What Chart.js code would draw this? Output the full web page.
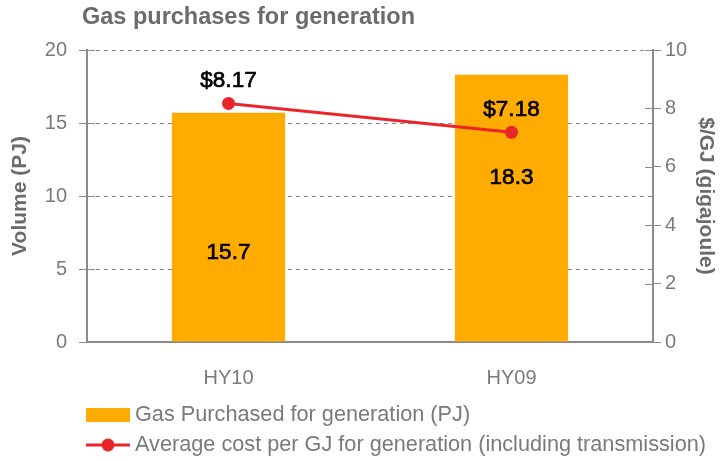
<!DOCTYPE html>
<html>
<head>
<meta charset="utf-8">
<script src="https://cdn.jsdelivr.net/npm/chart.js@4"></script>
<style>
  html, body { margin: 0; padding: 0; background: #fff; }
  #wrap { width: 720px; height: 461px; }
</style>
</head>
<body>
<div id="wrap"><canvas id="c" width="720" height="461"></canvas></div>
<script>
// ---- data ----
const categories = ['HY10', 'HY09'];
const gasVolume = [15.7, 18.3];          // PJ (left axis)
const avgCost = [8.17, 7.18];            // $/GJ (right axis)
const volumeLabels = ['15.7', '18.3'];
const costLabels = ['$8.17', '$7.18'];
const seriesNames = ['Gas Purchased for generation (PJ)', 'Average cost per GJ for generation (including transmission)'];
const chartTitle = 'Gas purchases for generation';
const leftAxisTitle = 'Volume (PJ)';
const rightAxisTitle = '$/GJ (gigajoule)';

const ORANGE = '#FFAB00';
const RED = '#E8262A';
const AXIS = '#8a8a8a';
const TXT = '#7a7a7a';
const FONT = "'Liberation Sans', Arial, sans-serif";
const PLOT_BOTTOM = 342;

// legend swatches
function makeSwatch(kind) {
  const cv = document.createElement('canvas');
  cv.width = 44; cv.height = 16;
  const x = cv.getContext('2d');
  if (kind === 'bar') {
    x.fillStyle = ORANGE; x.fillRect(0, 1, 44, 14);
  } else {
    x.strokeStyle = RED; x.lineWidth = 3;
    x.beginPath(); x.moveTo(0, 8); x.lineTo(44, 8); x.stroke();
    x.fillStyle = RED; x.beginPath(); x.arc(22, 8, 6.5, 0, Math.PI * 2); x.fill();
  }
  return cv;
}
const swatches = [makeSwatch('bar'), makeSwatch('line')];

const layoutTweak = {
  id: 'layoutTweak',
  afterLayout(chart) {
    const lg = chart.legend;
    const lab = lg.options.labels;
    const dx = 83.55 - lg.left;
    lg.left += dx; lg.right += dx;
    const targetTop = 415 - lab.padding - lab.font.size / 2;
    const dy = targetTop - lg.top;
    lg.top += dy; lg.bottom += dy;
    const t = chart.titleBlock;
    if (t) { t.left += 82; t.right += 82; }
  }
};

const innerTicks = {
  id: 'innerTicks',
  afterDatasetsDraw(chart) {
    const ctx = chart.ctx;
    const area = chart.chartArea;
    ctx.save();
    ctx.strokeStyle = AXIS; ctx.lineWidth = 1;
    const y = chart.scales.y, y1 = chart.scales.y1;
    y.ticks.forEach((t, i) => {
      const py = Math.round(y.getPixelForTick(i)) + 0.5;
      ctx.beginPath(); ctx.moveTo(area.left, py); ctx.lineTo(area.left + 8, py); ctx.stroke();
    });
    y1.ticks.forEach((t, i) => {
      const py = Math.round(y1.getPixelForTick(i)) + 0.5;
      ctx.beginPath(); ctx.moveTo(area.right - 8, py); ctx.lineTo(area.right, py); ctx.stroke();
    });
    ctx.restore();
  }
};

const dataLabels = {
  id: 'dataLabels',
  afterDatasetsDraw(chart, args, opts) {
    const ctx = chart.ctx;
    ctx.save();
    ctx.fillStyle = '#000';
    ctx.strokeStyle = '#000';
    ctx.lineWidth = 0.7;
    ctx.font = '22.5px ' + FONT;
    ctx.textAlign = 'center';
    ctx.textBaseline = 'middle';
    const draw = (s, x, y) => { ctx.fillText(s, x, y); ctx.strokeText(s, x, y); };
    const barMeta = chart.getDatasetMeta(0);
    barMeta.data.forEach((el, i) => {
      const yy = el.y + opts.barFrac[i] * (el.base - el.y);
      draw(volumeLabels[i], el.x, yy);
    });
    const lineMeta = chart.getDatasetMeta(1);
    lineMeta.data.forEach((el, i) => {
      draw(costLabels[i], el.x, el.y - 23);
    });
    ctx.restore();
  }
};

new Chart(document.getElementById('c'), {
  data: {
    labels: categories,
    datasets: [
      {
        type: 'bar', label: seriesNames[0], data: gasVolume, yAxisID: 'y',
        backgroundColor: ORANGE, borderWidth: 0,
        categoryPercentage: 0.8, barPercentage: 0.5, order: 1
      },
      {
        type: 'line', label: seriesNames[1], data: avgCost, yAxisID: 'y1',
        borderColor: RED, backgroundColor: RED, borderWidth: 3,
        pointRadius: 6.5, pointHoverRadius: 6.5, pointBackgroundColor: RED, pointBorderWidth: 0,
        tension: 0, order: 0
      }
    ]
  },
  options: {
    responsive: false,
    animation: false,
    layout: { padding: 0 },
    plugins: {
      tooltip: { enabled: false },
      title: {
        display: true, text: chartTitle, align: 'start',
        color: '#6b6b6b', font: { family: FONT, size: 23.5, weight: 'bold' },
        padding: { top: 3, bottom: 18.8 }
      },
      legend: {
        position: 'bottom', align: 'start',
        labels: {
          usePointStyle: true, pointStyleWidth: 32.3, boxHeight: 14,
          padding: 8.3, color: TXT, font: { family: FONT, size: 21.7 },
          sort: (a, b) => a.datasetIndex - b.datasetIndex,
          generateLabels: (chart) => chart.data.datasets.map((ds, i) => ({
            text: ds.label, datasetIndex: i, pointStyle: swatches[i],
            fillStyle: ds.backgroundColor, strokeStyle: ds.backgroundColor,
            lineWidth: 0, hidden: false, fontColor: TXT
          }))
        }
      },
      dataLabels: { barFrac: [0.61, 0.386] }
    },
    scales: {
      x: {
        grid: { display: false, drawTicks: false },
        border: { display: true, color: AXIS, width: 2 },
        ticks: { color: TXT, font: { family: FONT, size: 20 }, padding: 24 },
        afterFit: (s) => {
          const lgH = s.chart.legend ? s.chart.legend.height : 0;
          s.height = s.chart.height - lgH - PLOT_BOTTOM;
        }
      },
      y: {
        position: 'left', min: 0, max: 20,
        ticks: { stepSize: 5, color: TXT, font: { family: FONT, size: 20 }, padding: 12 },
        grid: { color: AXIS, lineWidth: 1, tickLength: 8, tickColor: AXIS, tickBorderDash: [], tickWidth: 1 },
        border: { display: true, color: AXIS, width: 2, dash: [4, 4] },
        title: { display: true, text: leftAxisTitle, color: '#6b6b6b', font: { family: FONT, size: 21, weight: 'bold' }, padding: { top: 7.4, bottom: 0 } },
        afterFit: (s) => { s.width = 87; }
      },
      y1: {
        position: 'right', min: 0, max: 10,
        ticks: { stepSize: 2, color: TXT, font: { family: FONT, size: 20 }, padding: 4 },
        grid: { drawOnChartArea: false, tickLength: 8, tickColor: AXIS, tickWidth: 1 },
        border: { display: true, color: AXIS, width: 2 },
        title: { display: true, text: rightAxisTitle, color: '#6b6b6b', font: { family: FONT, size: 21, weight: 'bold' }, padding: { top: 1.4, bottom: 0 } },
        afterFit: (s) => { s.width = 67; }
      }
    }
  },
  plugins: [layoutTweak, innerTicks, dataLabels]
});
</script>
</body>
</html>
